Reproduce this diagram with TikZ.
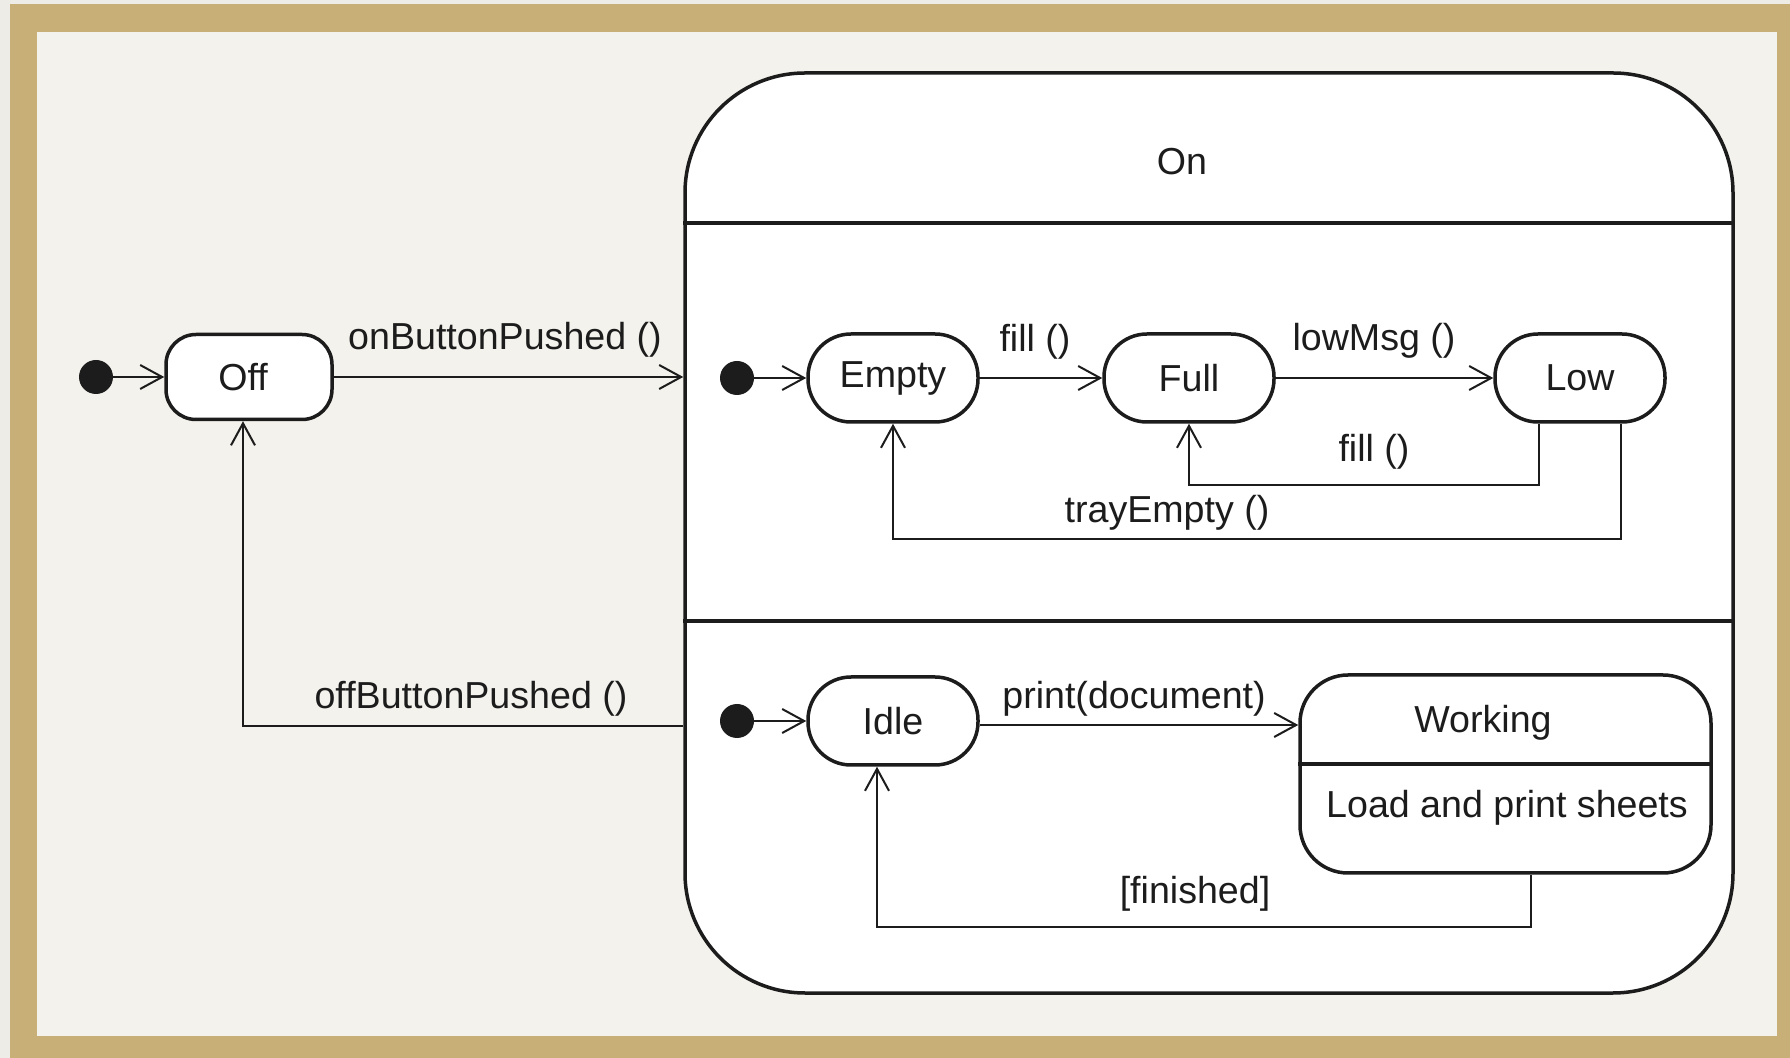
\documentclass[tikz,border=0pt]{standalone}
\usepackage{fontspec}
\setmainfont{Liberation Sans}
\usetikzlibrary{arrows.meta,calc}
\definecolor{gold}{HTML}{C8AF78}
\definecolor{cream}{HTML}{F4F2ED}
\definecolor{edgebg}{HTML}{EEECE6}
\definecolor{ink}{HTML}{1C1C1C}
\begin{document}
\begin{tikzpicture}[x=0.5pt,y=-0.5pt,
  every node/.style={font=\fontsize{18.8}{22}\selectfont, text=ink},
  st/.style={draw=ink, line width=1.75pt, fill=white, inner sep=0pt},
  pill/.style={st, minimum width=85pt, minimum height=44pt, rounded corners=21.5pt},
  tr/.style={draw=ink, line width=1pt, -{Straight Barb[length=11pt,width=12pt,line width=1pt]}},
  ln/.style={draw=ink, line width=1pt},
  divider/.style={draw=ink, line width=1.75pt},
  init/.style={circle, fill=ink, minimum size=17pt, inner sep=0pt},
  lbl/.style={inner sep=1pt}]
\useasboundingbox (0,0) rectangle (1790,1058);
\fill[edgebg] (0,0) rectangle (1790,1058);
\fill[gold] (10,4) rectangle (1790,1058);
\fill[cream] (37,32) rectangle (1777,1036);

% composite state On
\node[st, minimum width=524pt, minimum height=460pt, rounded corners=60pt] (on) at (1209,533) {};
\draw[divider] (on.west |- 0,223) -- (on.east |- 0,223);
\draw[divider] (on.west |- 0,621) -- (on.east |- 0,621);
\node (onlbl) at (1182,162) {On};

% Off
\node[init] (i1) at (96,377) {};
\node[st, minimum width=83pt, minimum height=42.5pt, rounded corners=15pt] (off) at (249,377) {Off\hspace*{6pt}};
\draw[tr] (i1) -- (off);
\draw[tr] (off.east) -- (off.east -| on.west);
\node[lbl] (onbp) at (505,340) {onButtonPushed ()};

\coordinate (offc) at (243,726);
\draw[tr] (on.west |- offc) -| ([xshift=-3pt]off.south);
\node[lbl] (offbp) at (471,699) {offButtonPushed ()};

% upper region
\node[init] (i2) at (737,378) {};
\node[pill] (empty) at (893,378) {Empty};
\node[pill] (full) at (1189,378) {Full};
\node[pill] (low) at (1580,378) {Low};
\draw[tr] (i2) -- (empty);
\draw[tr] (empty) -- (full);
\node[lbl] (fill1) at (1035,342) {fill ()};
\draw[tr] (full) -- (low);
\node[lbl] (lowmsg) at (1374,341) {lowMsg ()};
\draw[tr] ([xshift=-20.5pt]low.south) -- ++(0,61) -| (full.south);
\node[lbl] (fill2) at (1374,452) {fill ()};
\draw[tr] ([xshift=20.5pt]low.south) -- ++(0,115) -| (empty.south);
\node[lbl] (tray) at (1167,513) {trayEmpty ()};

% lower region
\node[init] (i3) at (737,721) {};
\node[pill] (idle) at (893,721) {Idle};
\draw[tr] (i3) -- (idle);
\node[st, minimum width=205.5pt, minimum height=99pt, rounded corners=24pt] (work) at (1505.5,774) {};
\draw[divider] (work.west |- 0,764) -- (work.east |- 0,764);
\node (worklbl) at (1483,723) {Working};
\node (loadlbl) at (1507,808) {Load and print sheets};
\draw[tr] ([yshift=-2pt]idle.east) -- ([yshift=-2pt]idle.east -| work.west);
\node[lbl] (printdoc) at (1134,699) {print(document)};
\draw[tr] ([xshift=12.75pt]work.south) -- ++(0,52) -| ([xshift=-8pt]idle.south);
\node[lbl] (fin) at (1195,894) {[finished]};
\end{tikzpicture}
\end{document}
